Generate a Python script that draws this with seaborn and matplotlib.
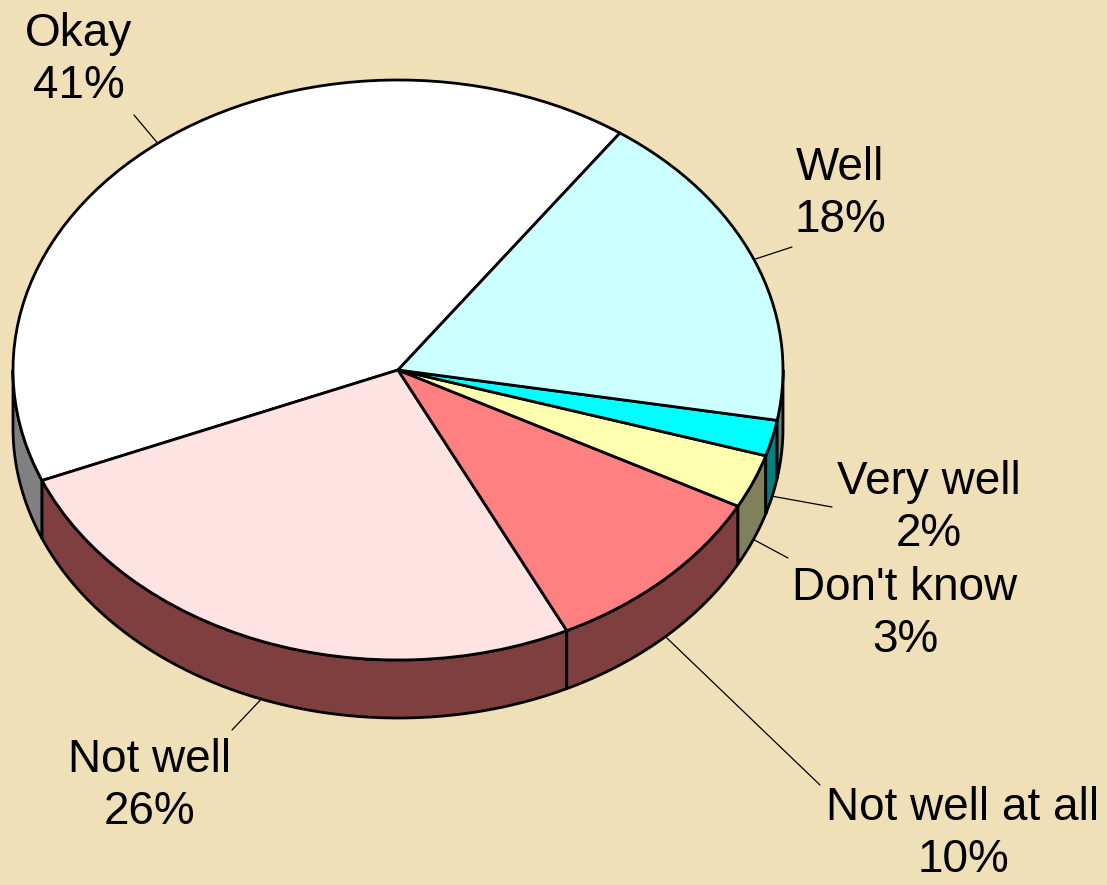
import numpy as np
import matplotlib
matplotlib.use("Agg")
import matplotlib.pyplot as plt
from matplotlib.patches import Polygon
import seaborn as sns

# ---- data ----
categories = ["Okay", "Not well", "Not well at all", "Don't know", "Very well", "Well"]
percents = [41, 26, 10, 3, 2, 18]
top_colors = ["#FFFFFF", "#FFE2E2", "#FF8080", "#FFFFB0", "#00FFFF", "#CCFFFF"]
side_colors = ["#808080", "#7F3F3F", "#7F3F3F", "#80805A", "#008080", "#668080"]

# ---- layout (pixels) ----
W, H = 1107, 885
cx_px, cy_px = 398, 370
rx_px, ry_px = 385, 290
depth_px = 58
start_angle = 54.8
k = ry_px / rx_px
label_pos = [(79, 60), (150, 786), (963, 834), (905, 614), (929, 508), (840, 194)]
leader_end = [(134, 115), (232, 730), (820, 785), (788, 558), (832, 507), (792, 247)]

sns.set_theme(style="white")
plt.rcParams["font.family"] = ["Liberation Sans", "DejaVu Sans"]

fig = plt.figure(figsize=(W / 100, H / 100), dpi=100)
fig.patch.set_facecolor("#F0E0B8")
ax = fig.add_axes([0, 0, 1, 1])
ax.set_facecolor("#F0E0B8")


def to_data(px, py):
    return px, (H - py) / k


cx, cy = to_data(cx_px, cy_px)
R = rx_px
depth = depth_px / k

# slice angles
fr = np.array(percents) / sum(percents)
bounds = start_angle + 360 * np.concatenate([[0], np.cumsum(fr)])

# sides (visible lower half: 180..360)
for i in range(len(categories)):
    a1, a2 = bounds[i], bounds[i + 1]
    lo, hi = max(a1, 180), min(a2, 360)
    if hi <= lo:
        continue
    t = np.radians(np.linspace(lo, hi, 80))
    xt = cx + R * np.cos(t)
    yt = cy + R * np.sin(t)
    pts = np.vstack([np.column_stack([xt, yt]),
                     np.column_stack([xt[::-1], yt[::-1] - depth])])
    ax.add_patch(Polygon(pts, closed=True, facecolor=side_colors[i],
                         edgecolor="black", linewidth=2.0, zorder=1,
                         joinstyle="round"))

# top of pie
ax.pie(percents, colors=top_colors, startangle=start_angle, counterclock=True,
       center=(cx, cy), radius=R,
       wedgeprops=dict(edgecolor="black", linewidth=2.0, zorder=2,
                       joinstyle="round"))

# labels and leader lines
for i, cat in enumerate(categories):
    mid = np.radians((bounds[i] + bounds[i + 1]) / 2)
    x0 = cx + R * np.cos(mid)
    y0 = cy + R * np.sin(mid)
    if np.sin(mid) < 0:
        y0 -= depth
    ex, ey = to_data(*leader_end[i])
    ax.plot([x0, ex], [y0, ey], color="black", linewidth=0.9, zorder=3)
    lx, ly = to_data(*label_pos[i])
    ax.text(lx, ly, f"{cat}\n{percents[i]}%", ha="center", va="center",
            fontsize=33, color="black", linespacing=1.25, zorder=4)

ax.set_aspect("auto")
ax.set_xlim(0, W)
ax.set_ylim(0, H / k)
ax.axis("off")

fig.savefig("out.png", dpi=100, facecolor=fig.get_facecolor())
